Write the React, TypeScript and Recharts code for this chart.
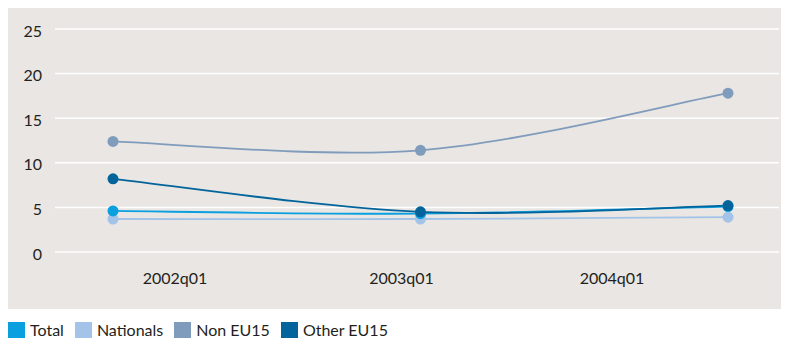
import React from 'react';
import { LineChart, Line, XAxis, YAxis, CartesianGrid } from 'recharts';

const quarters = ['2002q01', '2003q01', '2004q01'];
const total = [4.6, 4.3, 5.1];
const nationals = [3.7, 3.7, 3.9];
const nonEU15 = [12.4, 11.4, 17.8];
const otherEU15 = [8.2, 4.5, 5.2];
const yTicks = [0, 5, 10, 15, 20, 25];

const series = [
  { key: 'nationals', name: 'Nationals', values: nationals, color: '#a3c4e8' },
  { key: 'total', name: 'Total', values: total, color: '#0a9fdf' },
  { key: 'nonEU15', name: 'Non EU15', values: nonEU15, color: '#809cbc' },
  { key: 'otherEU15', name: 'Other EU15', values: otherEU15, color: '#02649b' },
];
const legendOrder = ['total', 'nationals', 'nonEU15', 'otherEU15'];

const rows = quarters.map((q, i) => {
  const row: Record<string, string | number> = { quarter: q };
  series.forEach((s) => (row[s.key] = s.values[i]));
  return row;
});

const FONT = 'Lato, "Open Sans", sans-serif';
const TEXT = '#231f20';

// Catmull-Rom style smoothing (spreadsheet "smoothed line"), end points repeated
const smoothCurve = (context: any) => {
  let pts: number[][] = [];
  return {
    areaStart() {},
    areaEnd() {},
    lineStart() {
      pts = [];
    },
    point(x: number, y: number) {
      pts.push([+x, +y]);
    },
    lineEnd() {
      if (!pts.length) return;
      context.moveTo(pts[0][0], pts[0][1]);
      for (let i = 0; i < pts.length - 1; i++) {
        const p0 = pts[i - 1] || pts[i];
        const p1 = pts[i];
        const p2 = pts[i + 1];
        const p3 = pts[i + 2] || p2;
        context.bezierCurveTo(
          p1[0] + (p2[0] - p0[0]) / 6,
          p1[1] + (p2[1] - p0[1]) / 6,
          p2[0] - (p3[0] - p1[0]) / 6,
          p2[1] - (p3[1] - p1[1]) / 6,
          p2[0],
          p2[1]
        );
      }
    },
  };
};

// the quarter labels sit off the point columns, so each one gets its own nudge
const tickNudge = [62, -19, -116];

const QuarterTick = (props: any) => {
  const { x, y, payload, index } = props;
  return (
    <text
      x={x + tickNudge[index]}
      y={y}
      dy="0.71em"
      textAnchor="middle"
      fill={TEXT}
      fontSize={16}
      fontFamily={FONT}
    >
      {payload.value}
    </text>
  );
};

export default function App() {
  return (
    <div style={{ marginLeft: -1, fontFamily: FONT }}>
      <div style={{ width: 782, height: 301, background: '#e9e6e3' }}>
        <LineChart
          width={782}
          height={301}
          data={rows}
          margin={{ top: 21, right: 10, bottom: 0, left: 0 }}
        >
          <CartesianGrid vertical={false} stroke="#ffffff" strokeWidth={1.5} />
          <XAxis
            dataKey="quarter"
            axisLine={false}
            tickLine={false}
            padding={{ left: 58, right: 51 }}
            tick={<QuarterTick />}
            tickMargin={15}
            height={57}
          />
          <YAxis
            domain={[0, 25]}
            ticks={yTicks}
            axisLine={false}
            tickLine={false}
            width={48}
            tick={{ fill: TEXT, fontSize: 16, fontFamily: FONT, dx: -5, dy: 2 }}
          />
          {series.map((s) => (
            <Line
              key={s.key}
              type={smoothCurve as any}
              dataKey={s.key}
              name={s.name}
              stroke={s.color}
              strokeWidth={1.8}
              dot={{ r: 5.5, fill: s.color, stroke: 'none' }}
              activeDot={false}
              isAnimationActive={false}
            />
          ))}
        </LineChart>
      </div>
      <div style={{ display: 'flex', marginTop: 13, marginLeft: 1, alignItems: 'center' }}>
        {legendOrder.map((k) => {
          const s = series.find((x) => x.key === k)!;
          return (
            <div key={k} style={{ display: 'flex', alignItems: 'center', marginRight: 11 }}>
              <span style={{ width: 17, height: 16, background: s.color, display: 'inline-block', marginRight: 5 }} />
              <span style={{ fontSize: 16, color: TEXT, lineHeight: '16px' }}>{s.name}</span>
            </div>
          );
        })}
      </div>
    </div>
  );
}
